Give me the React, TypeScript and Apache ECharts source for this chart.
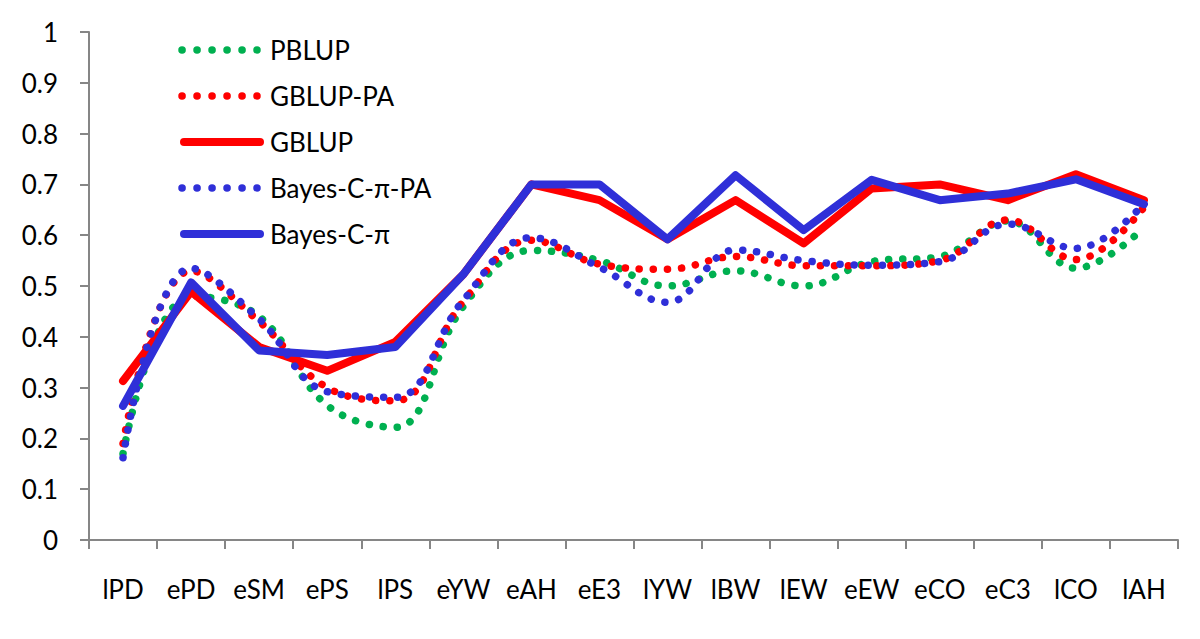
import React, { useEffect, useRef } from "react";
import * as echarts from "echarts";

const categories = ["lPD", "ePD", "eSM", "ePS", "lPS", "eYW", "eAH", "eE3", "lYW", "lBW", "lEW", "eEW", "eCO", "eC3", "lCO", "lAH"];
const pblup = [0.17, 0.48, 0.44, 0.265, 0.222, 0.46, 0.57, 0.55, 0.50, 0.53, 0.50, 0.548, 0.558, 0.628, 0.535, 0.615];
const gblupPA = [0.19, 0.53, 0.43, 0.30, 0.274, 0.47, 0.59, 0.543, 0.533, 0.558, 0.54, 0.54, 0.55, 0.63, 0.552, 0.655];
const gblup = [0.313, 0.489, 0.38, 0.333, 0.39, 0.523, 0.70, 0.669, 0.592, 0.669, 0.584, 0.692, 0.70, 0.669, 0.72, 0.669];
const bayesPA = [0.162, 0.535, 0.435, 0.292, 0.281, 0.472, 0.595, 0.537, 0.468, 0.571, 0.55, 0.541, 0.548, 0.622, 0.574, 0.662];
const bayes = [0.264, 0.507, 0.373, 0.364, 0.38, 0.523, 0.70, 0.70, 0.592, 0.718, 0.61, 0.709, 0.669, 0.682, 0.71, 0.661];
const yTicks = [0, 0.1, 0.2, 0.3, 0.4, 0.5, 0.6, 0.7, 0.8, 0.9, 1];
const seriesNames = ["PBLUP", "GBLUP-PA", "GBLUP", "Bayes-C-π-PA", "Bayes-C-π"];

const GREEN = "#00B050";
const RED = "#FF0000";
const BLUE = "#2F2FD8";
const FONT = "Lato, 'Open Sans', sans-serif";
const FS = 26;
const DOT_W = 7.5;
const DOT_DASH = [0.1, 14];

function dotted(name: string, data: number[], color: string) {
  return {
    name,
    type: "line",
    data,
    smooth: 0.4,
    symbol: "none",
    lineStyle: { color, width: DOT_W, type: DOT_DASH, cap: "round" },
    itemStyle: { color },
  };
}
function solid(name: string, data: number[], color: string) {
  return {
    name,
    type: "line",
    data,
    smooth: false,
    symbol: "none",
    lineStyle: { color, width: 8, type: "solid", cap: "round", join: "round" },
    itemStyle: { color },
  };
}

const legendSpec = [
  { color: GREEN, dotted: true },
  { color: RED, dotted: true },
  { color: RED, dotted: false },
  { color: BLUE, dotted: true },
  { color: BLUE, dotted: false },
];

export default function App() {
  const ref = useRef<HTMLDivElement>(null);
  useEffect(() => {
    if (!ref.current) return;
    const chart = echarts.init(ref.current, undefined, { renderer: "svg" });
    const legendGraphics: any[] = [];
    seriesNames.forEach((name, i) => {
      const y = 50 + i * 46;
      const s = legendSpec[i];
      legendGraphics.push({
        type: "line",
        shape: s.dotted ? { x1: 182, y1: y, x2: 257, y2: y } : { x1: 184, y1: y, x2: 260, y2: y },
        style: s.dotted
          ? { stroke: s.color, lineWidth: DOT_W, lineDash: [0.1, 14.9], lineCap: "round" }
          : { stroke: s.color, lineWidth: 8, lineCap: "round" },
        silent: true,
      });
      legendGraphics.push({
        type: "text",
        x: 270,
        y,
        style: { text: name, fontFamily: FONT, fontSize: FS, fill: "#000", verticalAlign: "middle", align: "left" },
        silent: true,
      });
    });
    chart.setOption({
      animation: false,
      backgroundColor: "#ffffff",
      grid: { left: 89, right: 22, top: 32, bottom: 99, containLabel: false },
      legend: { show: false, data: seriesNames },
      graphic: legendGraphics,
      xAxis: {
        type: "category",
        data: categories,
        boundaryGap: true,
        axisLine: { show: true, lineStyle: { color: "#868686", width: 2 } },
        axisTick: { show: true, alignWithLabel: false, length: 9, lineStyle: { color: "#868686", width: 2 } },
        axisLabel: { fontFamily: FONT, fontSize: FS, color: "#000", margin: 36, interval: 0 },
        splitLine: { show: false },
      },
      yAxis: {
        type: "value",
        min: 0,
        max: 1,
        interval: 0.1,
        axisLine: { show: true, lineStyle: { color: "#868686", width: 2 } },
        axisTick: { show: true, length: 9, inside: false, lineStyle: { color: "#868686", width: 2 } },
        axisLabel: {
          fontFamily: FONT,
          fontSize: FS,
          color: "#000",
          margin: 31,
          formatter: (v: number) => {
            const t = yTicks.find((x) => Math.abs(x - v) < 1e-6);
            return t === undefined ? "" : String(t);
          },
        },
        splitLine: { show: false },
      },
      series: [
        dotted(seriesNames[0], pblup, GREEN),
        dotted(seriesNames[1], gblupPA, RED),
        solid(seriesNames[2], gblup, RED),
        dotted(seriesNames[3], bayesPA, BLUE),
        solid(seriesNames[4], bayes, BLUE),
      ],
    });
    return () => chart.dispose();
  }, []);
  return (
    <div style={{ position: "fixed", left: 0, top: 0, width: 1200, height: 639, background: "#fff" }}>
      <div ref={ref} style={{ width: 1200, height: 639 }} />
    </div>
  );
}
